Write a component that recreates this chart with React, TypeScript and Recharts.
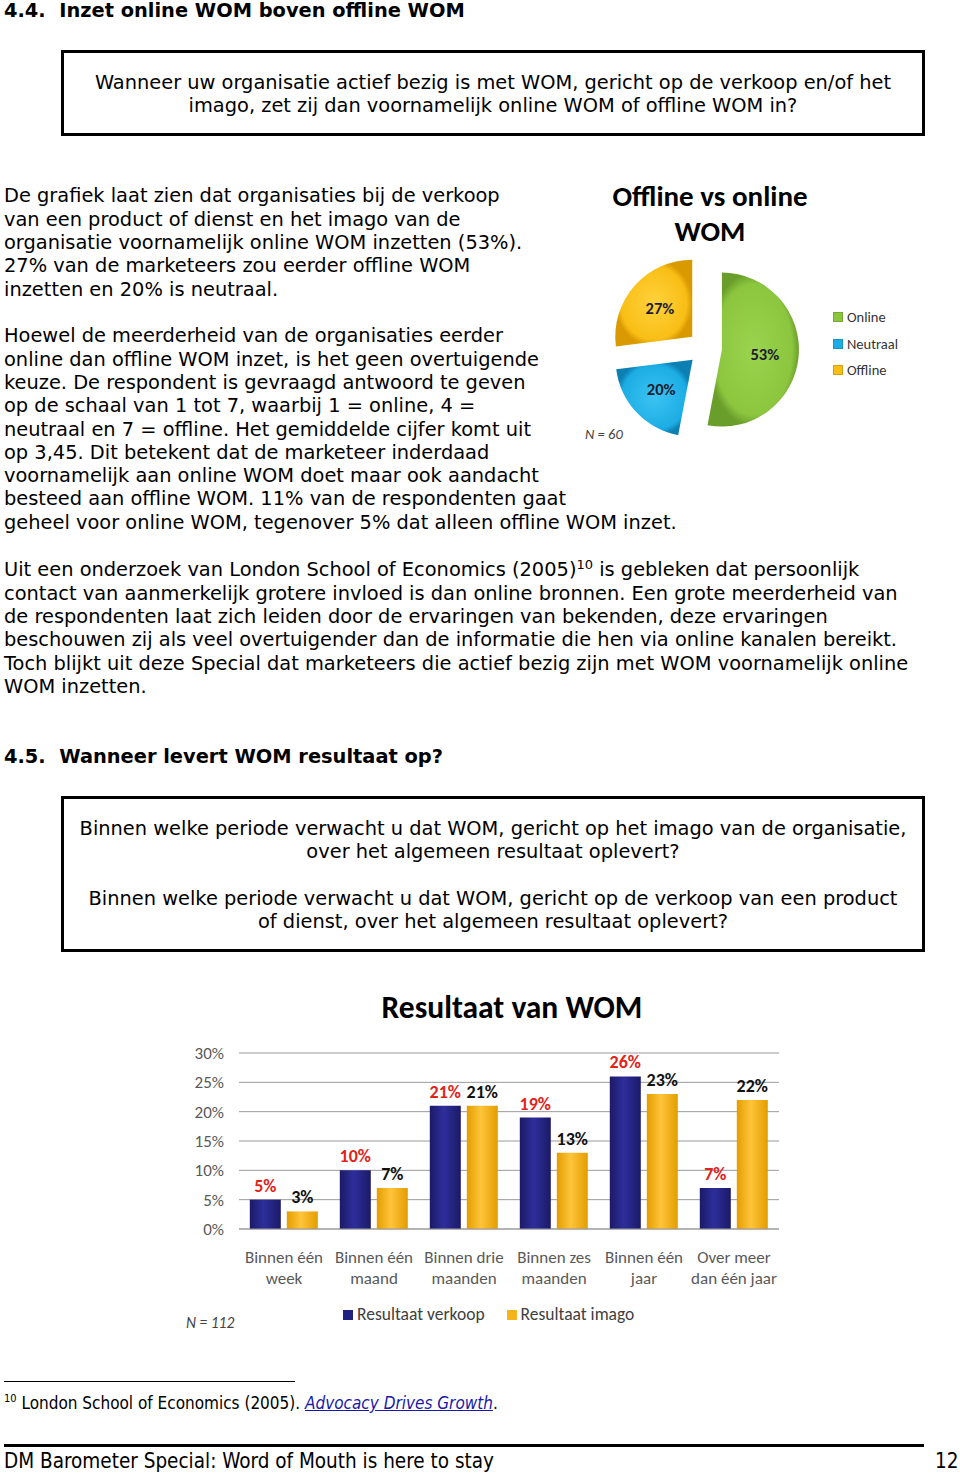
import React from 'react';
import { PieChart, Pie, Cell, BarChart, Bar, XAxis, YAxis, CartesianGrid, LabelList } from 'recharts';

// pie: offline vs online WOM (N = 60)
const pieNames = ['Online', 'Neutraal', 'Offline'];
const pieValues = [53, 20, 27];
const pieColors = ['url(#gGreen)', 'url(#gBlue)', 'url(#gYellow)'];
const pieLegendColors = ['#8cc63f', '#1cade4', '#f9be16'];

// bars: resultaat van WOM (N = 112)
const periods = [
  'Binnen één\nweek',
  'Binnen één\nmaand',
  'Binnen drie\nmaanden',
  'Binnen zes\nmaanden',
  'Binnen één\njaar',
  'Over meer\ndan één jaar',
];
const verkoop = [5, 10, 21, 19, 26, 7];
const imago = [3, 7, 21, 13, 23, 22];
const yTicks = [0, 5, 10, 15, 20, 25, 30];

const pieData = pieNames.map((name, i) => ({ name, value: pieValues[i] }));
const barData = periods.map((period, i) => ({ period, verkoop: verkoop[i], imago: imago[i] }));

const body = "Verdana, 'DejaVu Sans', sans-serif";
const narrow = "Tahoma, 'DejaVu Sans Condensed', 'Liberation Sans Narrow', 'Liberation Sans', sans-serif";
const calibri = "Calibri, Carlito, Lato, sans-serif";

const para1 = [
  'De grafiek laat zien dat organisaties bij de verkoop',
  'van een product of dienst en het imago van de',
  'organisatie voornamelijk online WOM inzetten (53%).',
  '27% van de marketeers zou eerder offline WOM',
  'inzetten en 20% is neutraal.',
];
const para2 = [
  'Hoewel de meerderheid van de organisaties eerder',
  'online dan offline WOM inzet, is het geen overtuigende',
  'keuze. De respondent is gevraagd antwoord te geven',
  'op de schaal van 1 tot 7, waarbij 1 = online, 4 =',
  'neutraal en 7 = offline. Het gemiddelde cijfer komt uit',
  'op 3,45. Dit betekent dat de marketeer inderdaad',
  'voornamelijk aan online WOM doet maar ook aandacht',
  'besteed aan offline WOM. 11% van de respondenten gaat',
  'geheel voor online WOM, tegenover 5% dat alleen offline WOM inzet.',
];
const para3 = [
  'contact van aanmerkelijk grotere invloed is dan online bronnen. Een grote meerderheid van',
  'de respondenten laat zich leiden door de ervaringen van bekenden, deze ervaringen',
  'beschouwen zij als veel overtuigender dan de informatie die hen via online kanalen bereikt.',
  'Toch blijkt uit deze Special dat marketeers die actief bezig zijn met WOM voornamelijk online',
  'WOM inzetten.',
];

const LH = 23.3;
const FS = 19.4;

function Block({ top, lines }: { top: number; lines: React.ReactNode[] }) {
  return (
    <div style={{ position: 'absolute', left: 4, top: top - LH / 2 + 1, fontFamily: body, fontSize: FS, lineHeight: `${LH}px`, whiteSpace: 'pre', color: '#000' }}>
      {lines.map((l, i) => (
        <div key={i}>{l}</div>
      ))}
    </div>
  );
}

function Box({ top, height, lines }: { top: number; height: number; lines: { y: number; t: string }[] }) {
  return (
    <>
      <div style={{ position: 'absolute', left: 61, top, width: 864, height, border: '3px solid #000', boxSizing: 'border-box' }} />
      {lines.map((l, i) => (
        <div key={i} style={{ position: 'absolute', left: 61, width: 864, top: l.y - 11, lineHeight: '24px', textAlign: 'center', fontFamily: body, fontSize: FS, whiteSpace: 'pre' }}>
          {l.t}
        </div>
      ))}
    </>
  );
}

function OfflineOnlinePie() {
  const total = pieValues.reduce((a, b) => a + b, 0);
  const explode = 17;
  let acc = 0;
  const offsets = pieValues.map((v) => {
    const mid = 90 - (360 * (acc + v / 2)) / total;
    acc += v;
    const r = (mid * Math.PI) / 180;
    return { dx: explode * Math.cos(r), dy: -explode * Math.sin(r) };
  });
  const cx = 125;
  const cy = 173;
  return (
    <div style={{ position: 'absolute', left: 580, top: 175, width: 340, height: 270 }}>
      <PieChart width={340} height={270} margin={{ top: 0, right: 0, bottom: 0, left: 0 }}>
        <defs>
          <radialGradient id="gGreen" cx="0.5" cy="0.5" r="0.5">
            <stop offset="0%" stopColor="#9ad44e" />
            <stop offset="85%" stopColor="#8cc63f" />
            <stop offset="100%" stopColor="#6a9e2a" />
          </radialGradient>
          <radialGradient id="gBlue" cx="0.5" cy="0.5" r="0.5">
            <stop offset="0%" stopColor="#3cc3f2" />
            <stop offset="85%" stopColor="#1cade4" />
            <stop offset="100%" stopColor="#0d80b3" />
          </radialGradient>
          <radialGradient id="gYellow" cx="0.5" cy="0.5" r="0.5">
            <stop offset="0%" stopColor="#ffd23c" />
            <stop offset="85%" stopColor="#f9be16" />
            <stop offset="100%" stopColor="#d89a00" />
          </radialGradient>
        </defs>
        {pieData.map((slice, i) => (
          <Pie
            key={slice.name}
            data={pieData}
            dataKey="value"
            nameKey="name"
            cx={cx + offsets[i].dx}
            cy={cy + offsets[i].dy}
            startAngle={90}
            endAngle={-270}
            outerRadius={77}
            stroke="none"
            labelLine={false}
            isAnimationActive={false}
            label={(p: any) => {
              if (p.index !== i) return null;
              const a = (p.midAngle * Math.PI) / 180;
              const rr = p.outerRadius * 0.56;
              return (
                <text
                  x={p.cx + rr * Math.cos(a)}
                  y={p.cy - rr * Math.sin(a)}
                  textAnchor="middle"
                  dominantBaseline="central"
                  fontFamily={calibri}
                  fontWeight="bold"
                  fontSize={16.5}
                  fill="#1c1c30"
                >
                  {`${p.value}%`}
                </text>
              );
            }}
          >
            {pieData.map((e, j) => (
              <Cell key={e.name} fill={j === i ? pieColors[j] : 'transparent'} />
            ))}
          </Pie>
        ))}
      </PieChart>
    </div>
  );
}

function PeriodTick(props: any) {
  const { x, y, payload } = props;
  const lines = String(payload.value).split('\n');
  return (
    <text x={x} y={y} textAnchor="middle" fill="#595959" fontFamily={calibri} fontSize={17}>
      {lines.map((l, i) => (
        <tspan key={i} x={x} dy={i === 0 ? 34 : 21}>
          {l}
        </tspan>
      ))}
    </text>
  );
}

function ResultaatChart() {
  return (
    <div style={{ position: 'absolute', left: 180, top: 1030, width: 610, height: 290 }}>
      <BarChart width={610} height={290} data={barData} margin={{ top: 23, right: 11, bottom: 0, left: 0 }} barCategoryGap="12%" barGap={6}>
        <defs>
          <linearGradient id="gBar1" x1="0" y1="0" x2="1" y2="0">
            <stop offset="0%" stopColor="#1b1a66" />
            <stop offset="45%" stopColor="#2e2e9c" />
            <stop offset="100%" stopColor="#1b1a66" />
          </linearGradient>
          <linearGradient id="gBar2" x1="0" y1="0" x2="1" y2="0">
            <stop offset="0%" stopColor="#e39d00" />
            <stop offset="45%" stopColor="#ffc43a" />
            <stop offset="100%" stopColor="#e39d00" />
          </linearGradient>
        </defs>
        <CartesianGrid vertical={false} stroke="#9a9a9a" />
        <XAxis dataKey="period" tick={<PeriodTick />} tickLine={false} axisLine={{ stroke: '#9a9a9a' }} tickSize={0} tickMargin={0} height={91} interval={0} />
        <YAxis
          domain={[0, 30]}
          ticks={yTicks}
          tickFormatter={(v: number) => `${v}%`}
          tickLine={false}
          axisLine={false}
          tickSize={0}
          tickMargin={15}
          width={59}
          tick={{ fill: '#595959', fontSize: 17, fontFamily: calibri }}
        />
        <Bar dataKey="verkoop" fill="url(#gBar1)" isAnimationActive={false}>
          <LabelList dataKey="verkoop" position="top" offset={8} formatter={(v: any) => `${v}%`} fill="#e2231a" fontSize={18} fontWeight="bold" fontFamily={calibri} />
        </Bar>
        <Bar dataKey="imago" fill="url(#gBar2)" isAnimationActive={false}>
          <LabelList dataKey="imago" position="top" offset={8} formatter={(v: any) => `${v}%`} fill="#111" fontSize={18} fontWeight="bold" fontFamily={calibri} />
        </Bar>
      </BarChart>
    </div>
  );
}

export default function App() {
  return (
    <div style={{ position: 'absolute', left: 0, top: 0, width: 960, height: 1473, background: '#fff', overflow: 'hidden', color: '#000' }}>
      <div style={{ position: 'absolute', left: 4, top: 0, lineHeight: '22px', fontFamily: body, fontSize: FS, fontWeight: 'bold', whiteSpace: 'pre' }}>
        {'4.4.  Inzet online WOM boven offline WOM'}
      </div>
      <Box
        top={50}
        height={86}
        lines={[
          { y: 82, t: 'Wanneer uw organisatie actief bezig is met WOM, gericht op de verkoop en/of het' },
          { y: 105, t: 'imago, zet zij dan voornamelijk online WOM of offline WOM in?' },
        ]}
      />
      <Block top={195} lines={para1} />
      <Block top={335} lines={para2} />
      <Block
        top={569}
        lines={[
          <span key="s">
            Uit een onderzoek van London School of Economics (2005)
            <sup style={{ fontSize: 13, lineHeight: 0 }}>10</sup> is gebleken dat persoonlijk
          </span>,
          ...para3,
        ]}
      />

      {/* pie chart */}
      <div style={{ position: 'absolute', left: 560, top: 179, width: 300, textAlign: 'center', fontFamily: calibri, fontWeight: 'bold', fontSize: 29, lineHeight: '35px', color: '#000' }}>
        Offline vs online
        <br />
        WOM
      </div>
      <OfflineOnlinePie />
      {pieNames.map((n, i) => (
        <div key={n} style={{ position: 'absolute', left: 833, top: 309 + i * 26.5, fontFamily: calibri, fontSize: 14.5, lineHeight: '17px', color: '#333', whiteSpace: 'pre' }}>
          <span style={{ display: 'inline-block', width: 8, height: 8, background: pieLegendColors[i], marginRight: 4, border: '1px solid rgba(0,0,0,0.15)' }} />
          {n}
        </div>
      ))}
      <div style={{ position: 'absolute', left: 585, top: 426, fontFamily: calibri, fontStyle: 'italic', fontSize: 14.5, lineHeight: '16px', color: '#444' }}>N = 60</div>

      <div style={{ position: 'absolute', left: 4, top: 745, lineHeight: '24px', fontFamily: body, fontSize: FS, fontWeight: 'bold', whiteSpace: 'pre' }}>
        {'4.5.  Wanneer levert WOM resultaat op?'}
      </div>
      <Box
        top={796}
        height={156}
        lines={[
          { y: 828, t: 'Binnen welke periode verwacht u dat WOM, gericht op het imago van de organisatie,' },
          { y: 851, t: 'over het algemeen resultaat oplevert?' },
          { y: 898, t: 'Binnen welke periode verwacht u dat WOM, gericht op de verkoop van een product' },
          { y: 921, t: 'of dienst, over het algemeen resultaat oplevert?' },
        ]}
      />

      {/* bar chart */}
      <div style={{ position: 'absolute', left: 312, top: 988, width: 400, textAlign: 'center', fontFamily: calibri, fontWeight: 'bold', fontSize: 31.5, lineHeight: '38px', color: '#000' }}>
        Resultaat van WOM
      </div>
      <ResultaatChart />
      <div style={{ position: 'absolute', left: 343, top: 1304, fontFamily: calibri, fontSize: 17.5, lineHeight: '20px', color: '#404040', whiteSpace: 'pre' }}>
        <span style={{ display: 'inline-block', width: 10, height: 10, background: '#22227f', marginRight: 4 }} />
        Resultaat verkoop
        <span style={{ display: 'inline-block', width: 10, height: 10, background: '#f5b41c', marginLeft: 22, marginRight: 4 }} />
        Resultaat imago
      </div>
      <div style={{ position: 'absolute', left: 186, top: 1315, fontFamily: calibri, fontStyle: 'italic', fontSize: 15.5, lineHeight: '16px', color: '#444' }}>N = 112</div>

      {/* footnote + footer */}
      <div style={{ position: 'absolute', left: 4, top: 1381, width: 291, height: 1, background: '#000' }} />
      <div style={{ position: 'absolute', left: 4, top: 1393, fontFamily: narrow, fontSize: 17, lineHeight: '20px', whiteSpace: 'pre' }}>
        <sup style={{ fontSize: 11, lineHeight: 0 }}>10</sup> London School of Economics (2005).{' '}
        <span style={{ color: '#1a1aa8', fontStyle: 'italic', textDecoration: 'underline' }}>Advocacy Drives Growth</span>.
      </div>
      <div style={{ position: 'absolute', left: 4, top: 1444, width: 920, height: 3, background: '#000' }} />
      <div style={{ position: 'absolute', left: 4, top: 1449, fontFamily: narrow, fontSize: 20.5, lineHeight: '24px', whiteSpace: 'pre' }}>
        DM Barometer Special: Word of Mouth is here to stay
      </div>
      <div style={{ position: 'absolute', left: 935, top: 1449, fontFamily: narrow, fontSize: 20.5, lineHeight: '24px' }}>12</div>
    </div>
  );
}
